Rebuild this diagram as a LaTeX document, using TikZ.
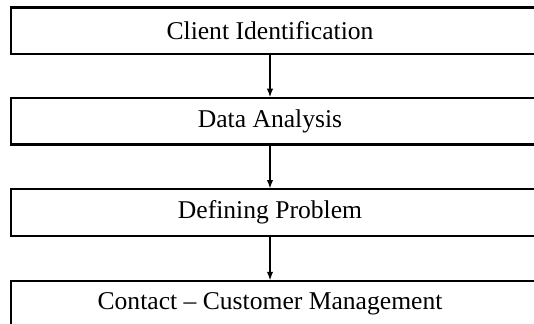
\documentclass[tikz,border=0pt]{standalone}
\usepackage{fontspec}
\setmainfont{Liberation Serif}
\usetikzlibrary{positioning,arrows.meta}

\tikzset{
  stage/.style={minimum width=258.5pt,minimum height=23pt,inner sep=0pt,font=\fontsize{12.8}{14}\selectfont},
  frame/.style={line width=1.1pt,line join=miter},
  flow/.style={line width=0.9pt,-{Latex[length=4.5pt,width=3.2pt]}}
}

\begin{document}
\begin{tikzpicture}[x=1pt,y=1pt]
\clip (0,0) rectangle (267,161.5);
% stages
\node[stage] (ident) at (135,146.1) {Client Identification};
\node[stage,below=21.75pt of ident] (analysis) {Data Analysis};
\node[stage,below=22.25pt of analysis] (problem) {Defining Problem};
\node[stage,below=22.5pt of problem] (contact) {Contact -- Customer Management};
% open frames, cut off on the right
\foreach \s in {ident,analysis,problem,contact}
  \draw[frame] ([xshift=20pt]\s.north east) -- (\s.north west) -- (\s.south west) -- ([xshift=20pt]\s.south east);
% arrows
\draw[flow] (ident) -- (analysis);
\draw[flow] (analysis) -- (problem);
\draw[flow] (problem) -- (contact);
\end{tikzpicture}
\end{document}
